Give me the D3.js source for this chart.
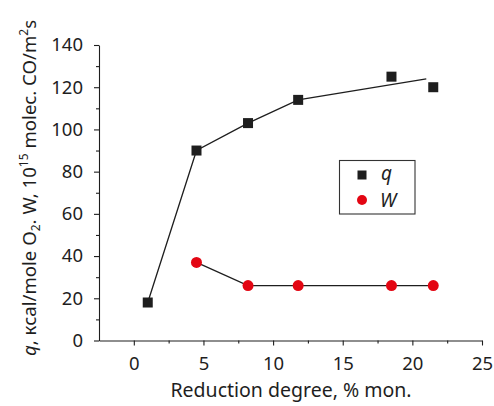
<!DOCTYPE html>
<html>
<head>
<meta charset="utf-8">
<script src="https://cdn.jsdelivr.net/npm/d3@7"></script>
<style>
  body { margin: 0; background: #fff; }
  svg { display: block; font-family: "Noto Sans", "Open Sans", sans-serif; }
</style>
</head>
<body>
<svg id="chart" width="494" height="406"></svg>
<script>
// data
const qX = [1.0, 4.5, 8.2, 11.8, 18.5, 21.5];
const qY = [18, 90, 103, 114, 125, 120];
// smoothed trend line drawn through q
const qFitX = [1.0, 4.5, 8.2, 11.8, 21.0];
const qFitY = [18, 90, 103, 114, 124];

const wX = [4.5, 8.2, 11.8, 18.5, 21.5];
const wY = [37, 26, 26, 26, 26];

const xTicks = [0, 5, 10, 15, 20, 25];
const xMinor = [2.5, 7.5, 12.5, 17.5, 22.5];
const yTicks = [0, 20, 40, 60, 80, 100, 120, 140];
const yMinor = [10, 30, 50, 70, 90, 110, 130];

const svg = d3.select("#chart");
const ink = "#1e1e1e";
const red = "#e30613";

const x = d3.scaleLinear().domain([-2.5, 25]).range([99, 482]);
const y = d3.scaleLinear().domain([0, 140]).range([340.5, 45]);

// --- axes ---
svg.append("g").attr("transform", `translate(0,${y(0)})`)
  .call(d3.axisBottom(x).tickValues(xTicks).tickSize(5).tickSizeOuter(0).tickPadding(11));
svg.append("g").attr("transform", `translate(0,${y(0)})`)
  .call(d3.axisBottom(x).tickValues(xMinor).tickSize(3).tickSizeOuter(0).tickFormat(""))
  .select(".domain").remove();

svg.append("g").attr("transform", `translate(${x(-2.5)},0)`)
  .call(d3.axisLeft(y).tickValues(yTicks).tickSize(5).tickSizeOuter(0).tickPadding(11));
svg.append("g").attr("transform", `translate(${x(-2.5)},0)`)
  .call(d3.axisLeft(y).tickValues(yMinor).tickSize(3).tickSizeOuter(0).tickFormat(""))
  .select(".domain").remove();

svg.selectAll(".domain, .tick line").attr("stroke", ink).attr("stroke-width", 1.1);
svg.selectAll(".tick text").attr("fill", ink).style("font-size", "18.5px")
  .style("font-family", "'Noto Sans', sans-serif");

// --- axis titles ---
svg.append("text")
  .attr("x", 291).attr("y", 397)
  .attr("text-anchor", "middle")
  .attr("fill", ink)
  .style("font-size", "19.5px")
  .text("Reduction degree, % mon.");

const yl = svg.append("text")
  .attr("transform", "translate(36,188) rotate(-90)")
  .attr("text-anchor", "middle")
  .attr("fill", ink)
  .style("font-size", "18.6px");
yl.append("tspan").style("font-style", "italic").text("q");
yl.append("tspan").text(", кcal/mole O");
yl.append("tspan").attr("dy", 4).style("font-size", "12px").text("2");
yl.append("tspan").attr("dy", -4).text(". W, 10");
yl.append("tspan").attr("dy", -8).style("font-size", "12px").text("15");
yl.append("tspan").attr("dy", 8).text(" molec. CO/m");
yl.append("tspan").attr("dy", -8).style("font-size", "12px").text("2");
yl.append("tspan").attr("dy", 8).text("s");

// --- lines ---
const line = d3.line().x(d => x(d[0])).y(d => y(d[1]));
svg.append("path")
  .attr("d", line(d3.zip(qFitX, qFitY)))
  .attr("fill", "none").attr("stroke", ink).attr("stroke-width", 1.3);
svg.append("path")
  .attr("d", line(d3.zip(wX, wY)))
  .attr("fill", "none").attr("stroke", ink).attr("stroke-width", 1.3);

// --- markers ---
const sq = 10;
svg.selectAll(".q").data(d3.zip(qX, qY)).enter().append("rect")
  .attr("class", "q")
  .attr("x", d => x(d[0]) - sq / 2).attr("y", d => y(d[1]) - sq / 2)
  .attr("width", sq).attr("height", sq)
  .attr("fill", ink);

svg.selectAll(".w").data(d3.zip(wX, wY)).enter().append("circle")
  .attr("class", "w")
  .attr("cx", d => x(d[0])).attr("cy", d => y(d[1]))
  .attr("r", 5.5)
  .attr("fill", red);

// --- legend ---
const lg = svg.append("g");
lg.append("rect").attr("x", 339.5).attr("y", 160.5).attr("width", 75.5).attr("height", 53.5)
  .attr("fill", "#fff").attr("stroke", "#333").attr("stroke-width", 1.1);
lg.append("rect").attr("x", 362 - 4.5).attr("y", 175 - 4.5).attr("width", 9).attr("height", 9).attr("fill", ink);
lg.append("circle").attr("cx", 362).attr("cy", 200).attr("r", 5).attr("fill", red);
lg.append("text").attr("x", 381).attr("y", 180).attr("fill", ink)
  .style("font-size", "19px").style("font-style", "italic").text("q");
lg.append("text").attr("x", 380).attr("y", 207).attr("fill", ink)
  .style("font-size", "19px").style("font-style", "italic").text("W");
</script>
</body>
</html>
